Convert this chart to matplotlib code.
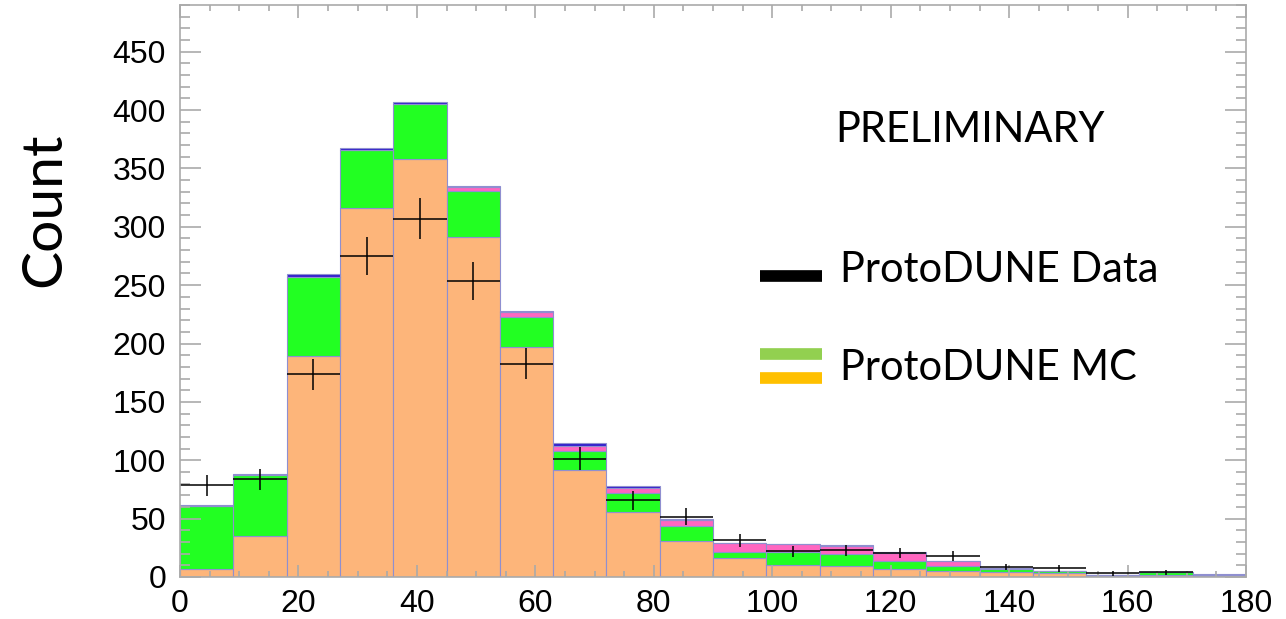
import numpy as np
import matplotlib
matplotlib.use("Agg")
import matplotlib.pyplot as plt
from matplotlib.lines import Line2D

# bin edges (9 units wide, 0..180)
edges = np.arange(0, 181, 9)

# stacked MC components, bottom to top
mc_orange = [7, 35, 189, 316, 358, 291, 197, 92, 56, 31, 16, 10, 9, 7, 5, 4, 3, 0.5, 1.5, 1]
mc_green = [54, 52, 68, 50, 47, 40, 26, 16, 16, 13, 5.5, 11, 11, 7, 4.4, 2.6, 1.9, 1, 2.5, 1]
mc_pink = [0, 0, 0, 0, 0, 3, 4, 4.5, 4, 4.5, 7.5, 7, 6.8, 6.3, 4.2, 0.9, 0.4, 0.3, 0.2, 0.1]
mc_blue = [1, 1.5, 2.5, 1.5, 2, 1, 1, 2, 1.7, 1.2, 0.4, 0.3, 0.6, 0.7, 0.4, 0.2, 0.1, 0.2, 0.1, 0.2]

# data counts
data = [78.6, 83.7, 173.7, 275, 307, 253.6, 182.8, 101.4, 65.7, 51.7,
        31.4, 22, 22.9, 20.6, 17.7, 8.6, 7.4, 3, 4, np.nan]

fig = plt.figure(figsize=(12.86, 6.19), dpi=100)
ax = fig.add_axes([180/1286, 42/619, 1066/1286, 572/619])

layers = [(mc_orange, "#FDB57A"), (mc_green, "#22FF22"),
          (mc_pink, "#FF66C0"), (mc_blue, "#3322CC")]
bottom = np.zeros(len(edges) - 1)
for vals, col in layers:
    vals = np.array(vals)
    ax.bar(edges[:-1], vals, width=9, bottom=bottom, align="edge",
           color=col, edgecolor="#8f8fd0", linewidth=0.8)
    bottom = bottom + vals

centers = edges[:-1] + 4.5
data = np.array(data)
ax.errorbar(centers, data, xerr=4.5, yerr=np.sqrt(data), fmt="none",
            ecolor="black", elinewidth=1.1, capsize=0)

ax.set_xlim(0, 180)
ax.set_ylim(0, 490)
ax.set_xticks(np.arange(0, 181, 20))
ax.set_xticks(np.arange(0, 181, 5), minor=True)
ax.set_yticks(np.arange(0, 451, 50))
ax.set_yticks(np.arange(0, 491, 10), minor=True)

for s in ax.spines.values():
    s.set_color("#aaaaaa")
    s.set_linewidth(1.2)

ax.tick_params(axis="both", which="both", direction="in", colors="#aaaaaa",
               labelcolor="black", top=True, right=True, width=1.2)
ax.tick_params(axis="x", which="major", length=9, labelsize=23, pad=9)
ax.tick_params(axis="x", which="minor", length=4.5)
ax.tick_params(axis="y", which="major", length=15, labelsize=23, pad=10)
ax.tick_params(axis="y", which="minor", length=7.5)
for lab in ax.get_xticklabels() + ax.get_yticklabels():
    lab.set_family("Liberation Sans")

fig.text(45/1286, 1 - 210/619, "Count", fontsize=41, family="Lato",
         rotation=90, ha="center", va="center")

fig.text(835/1286, 1 - 130/619, "PRELIMINARY", fontsize=30,
         family="Lato", ha="left", va="center")

# legend drawn by hand
x0, x1 = 760/1286, 822/1286
fig.add_artist(Line2D([x0, x1], [1 - 275.5/619] * 2, color="black", lw=8.4,
                      solid_capstyle="butt"))
fig.add_artist(Line2D([x0, x1], [1 - 354/619] * 2, color="#92D050", lw=8.4,
                      solid_capstyle="butt"))
fig.add_artist(Line2D([x0, x1], [1 - 378/619] * 2, color="#FFC000", lw=8.4,
                      solid_capstyle="butt"))
fig.text(840/1286, 1 - 270/619, "ProtoDUNE Data", fontsize=30, family="Lato", va="center")
fig.text(840/1286, 1 - 368/619, "ProtoDUNE MC", fontsize=30, family="Lato", va="center")

fig.savefig("out.png", dpi=100)
